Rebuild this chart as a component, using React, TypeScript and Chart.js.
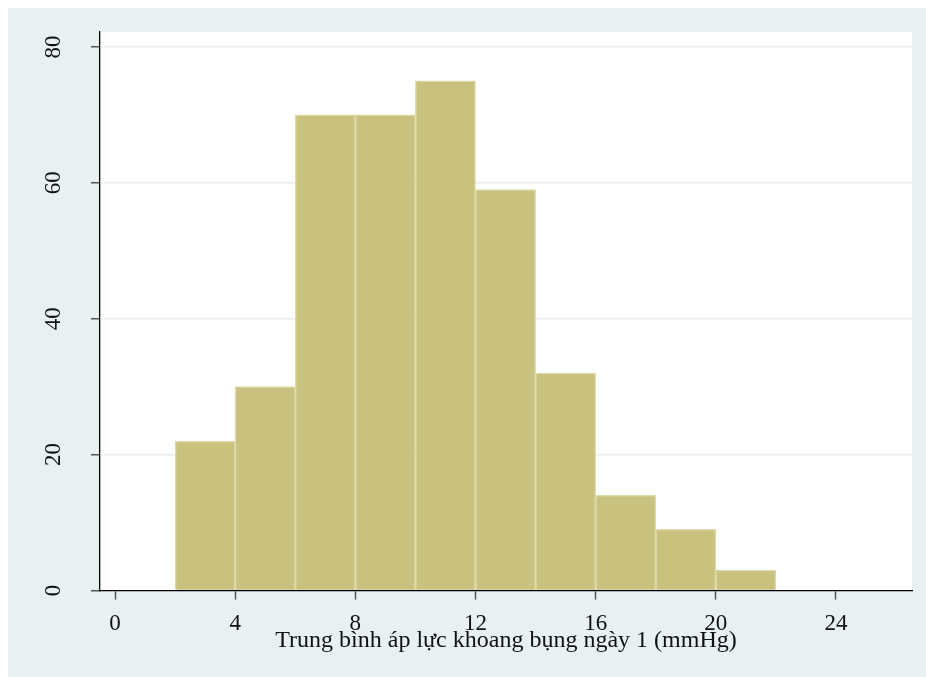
import { useEffect, useRef } from "react";
import { Chart, registerables } from "chart.js";

Chart.register(...registerables);

// Histogram bins (lower edges) and frequencies
const binStarts = [2, 4, 6, 8, 10, 12, 14, 16, 18, 20];
const binWidth = 2;
const counts = [22, 30, 70, 70, 75, 59, 32, 14, 9, 3];

// Axis ticks and ranges
const xTickValues = [0, 4, 8, 12, 16, 20, 24];
const yTickValues = [0, 20, 40, 60, 80];
const xMin = -0.5;
const xMax = 26.53;
const yMin = 0;
const yMax = 82.2;

const xTitle = "Trung bình áp lực khoang bụng ngày 1 (mmHg)";

const FONT = "'Liberation Serif', 'Times New Roman', serif";

const plotBackground = {
  id: "plotBackground",
  beforeDraw(chart: any) {
    const { ctx, chartArea } = chart;
    if (!chartArea) return;
    ctx.save();
    ctx.fillStyle = "#ffffff";
    ctx.fillRect(chartArea.left, chartArea.top, chartArea.width, chartArea.height);
    ctx.restore();
  },
};

export default function App() {
  const canvasRef = useRef<HTMLCanvasElement | null>(null);

  useEffect(() => {
    if (!canvasRef.current) return;
    const chart = new Chart(canvasRef.current, {
      type: "bar",
      data: {
        datasets: [
          {
            data: binStarts.map((s, i) => ({ x: s + binWidth / 2, y: counts[i] })),
            backgroundColor: "#c9c27f",
            borderColor: "#dcd8a8",
            borderWidth: 1.5,
            barPercentage: 1,
            categoryPercentage: 1,
          },
        ],
      },
      options: {
        animation: false,
        responsive: false,
        maintainAspectRatio: false,
        layout: { padding: { top: 24, right: 14, bottom: 0, left: 0 } },
        plugins: {
          legend: { display: false },
          tooltip: { enabled: false },
        },
        scales: {
          x: {
            type: "linear",
            min: xMin,
            max: xMax,
            offset: false,
            z: 1,
            grid: {
              display: true,
              drawOnChartArea: false,
              drawTicks: true,
              tickLength: 9,
              tickColor: "#555555",
              tickWidth: 1.5,
              offset: false,
            },
            border: { display: true, color: "#000000", width: 1.3 },
            ticks: {
              font: { family: FONT, size: 23 },
              color: "#111111",
              padding: 10.5,
            },
            afterBuildTicks: (scale: any) => {
              scale.ticks = xTickValues.map((v) => ({ value: v }));
            },
            afterFit: (scale: any) => {
              scale.height = 86.5;
              scale.paddingLeft = 0;
              scale.paddingRight = 0;
            },
            title: {
              display: true,
              text: xTitle,
              font: { family: FONT, size: 24 },
              color: "#111111",
              padding: { top: 0, bottom: 21.5 },
            },
          },
          y: {
            type: "linear",
            min: yMin,
            max: yMax,
            grid: {
              color: (ctx: any) =>
                ctx.tick && ctx.tick.value === 0 ? "rgba(0,0,0,0)" : "#e6eef0",
              lineWidth: 1.5,
              drawTicks: true,
              tickLength: 9,
              tickColor: "#555555",
              tickWidth: 1.5,
            },
            border: { display: true, color: "#000000", width: 1.3 },
            ticks: {
              minRotation: 90,
              maxRotation: 90,
              crossAlign: "center",
              padding: 26,
              font: { family: FONT, size: 23 },
              color: "#111111",
            },
            afterBuildTicks: (scale: any) => {
              scale.ticks = yTickValues.map((v) => ({ value: v }));
            },
            afterFit: (scale: any) => {
              scale.width = 92;
              scale.paddingTop = 0;
              scale.paddingBottom = 0;
            },
          },
        },
      },
      plugins: [plotBackground],
    } as any);
    return () => chart.destroy();
  }, []);

  return (
    <div
      style={{
        position: "fixed",
        left: 8,
        top: 8,
        width: 918,
        height: 669,
        background: "#e8f0f2",
      }}
    >
      <canvas
        ref={canvasRef}
        width={918}
        height={669}
        style={{ display: "block", width: 918, height: 669 }}
      />
    </div>
  );
}
